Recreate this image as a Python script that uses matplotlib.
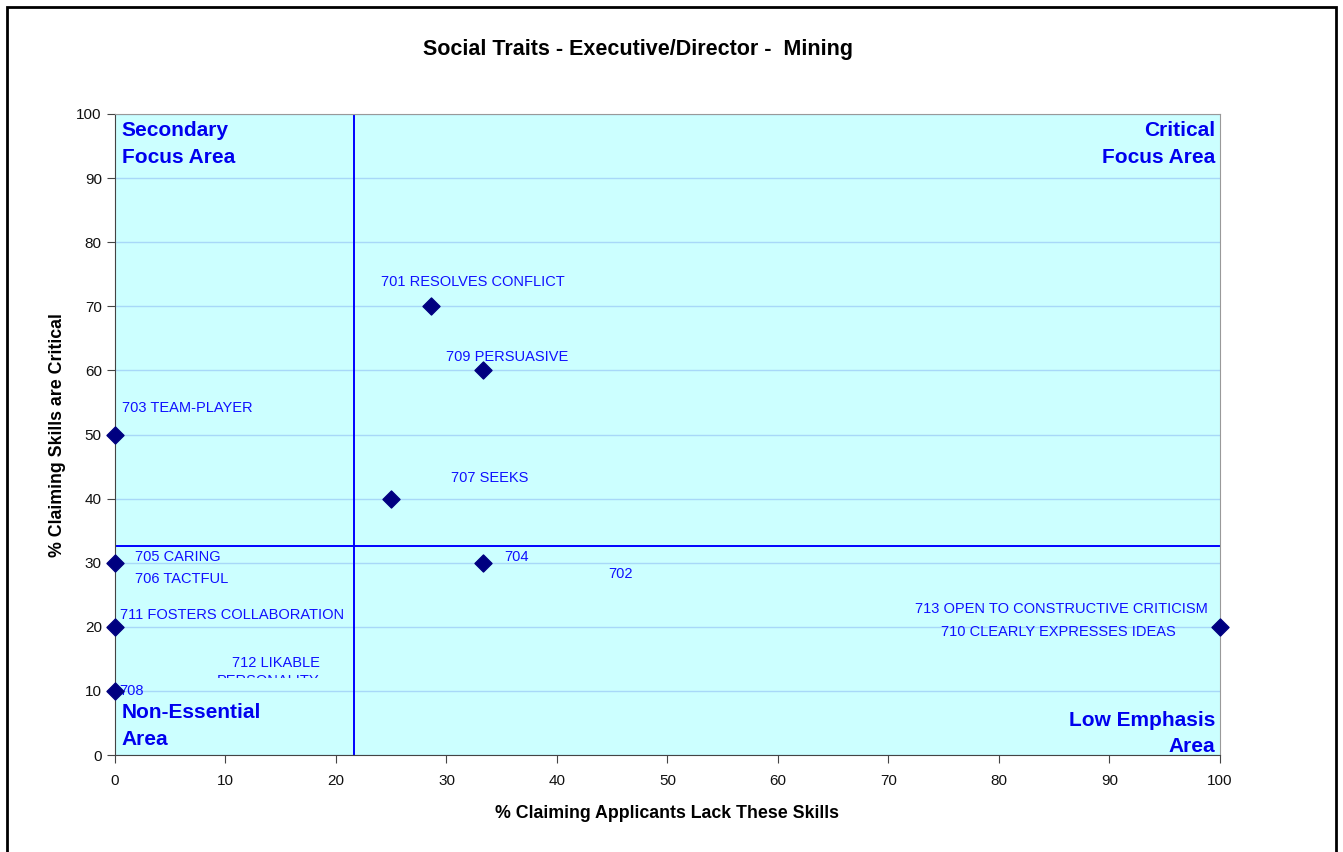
import matplotlib.pyplot as plt
from matplotlib.patches import Rectangle
from matplotlib.transforms import Bbox, TransformedBbox

plt.rcParams['font.family'] = ['Liberation Sans', 'DejaVu Sans']

# Daten
lack_pct = [28.6, 33.3, 0, 25, 0, 33.3, 0, 100, 0]
critical_pct = [70, 60, 50, 40, 30, 30, 20, 20, 10]

# Beschriftungen (Text, x, y, Ausrichtung)
labels = [
    ('701 RESOLVES CONFLICT', 32.4, 73.8, 'center'),
    ('709 PERSUASIVE', 35.5, 62.1, 'center'),
    ('703 TEAM-PLAYER', 0.6, 54.1, 'left'),
    ('707 SEEKS', 33.9, 43.2, 'center'),
    ('705 CARING', 1.8, 30.9, 'left'),
    ('706 TACTFUL', 1.8, 27.5, 'left'),
    ('704', 35.2, 30.9, 'left'),
    ('702', 44.6, 28.2, 'left'),
    ('711 FOSTERS COLLABORATION', 0.5, 21.8, 'left'),
    ('708', 0.4, 10.0, 'left'),
    ('713 OPEN TO CONSTRUCTIVE CRITICISM', 98.9, 22.8, 'right'),
    ('710 CLEARLY EXPRESSES IDEAS', 96.0, 19.2, 'right'),
]

quadrants = [
    ('Secondary\nFocus Area', 0.6, 98.9, 'left', 'top'),
    ('Critical\nFocus Area', 99.6, 98.9, 'right', 'top'),
    ('Non-Essential\nArea', 0.6, 1.0, 'left', 'bottom'),
    ('Low Emphasis\nArea', 99.6, -0.2, 'right', 'bottom'),
]

x_split = 21.6
y_split = 32.6

fig = plt.figure(figsize=(13.43, 8.52), dpi=100)
ax = fig.add_axes([0.0856, 0.1138, 0.8228, 0.7524])

# Rahmen um die ganze Grafik
fig.patches.append(Rectangle((7 / 1343, -0.05), 1329 / 1343, 1.05 - 7 / 852,
                             transform=fig.transFigure, fill=False,
                             edgecolor='black', linewidth=2))

ax.set_facecolor('#CCFFFF')
ax.set_xlim(0, 100)
ax.set_ylim(0, 100)
ax.set_xticks(range(0, 101, 10))
ax.set_yticks(range(0, 101, 10))
ax.yaxis.grid(True, color='#A8D8F8', linewidth=1)
ax.set_axisbelow(True)
for side in ['left', 'bottom']:
    ax.spines[side].set_color('#444444')
for side in ['top', 'right']:
    ax.spines[side].set_color('#999999')
ax.tick_params(labelsize=11, direction='out', length=6, color='#444444',
               labelcolor='#111111')
ax.tick_params(axis='x', pad=8)

ax.axvline(x_split, color='#0000FF', linewidth=1.4)
ax.axhline(y_split, color='#0000FF', linewidth=1.4)

ax.scatter(lack_pct, critical_pct, marker='D', s=75, color='#000080',
           zorder=5, clip_on=False)

for text, x, y, ha in labels:
    ax.text(x, y, text, ha=ha, va='center', fontsize=10.5, color='#1010FF')

# abgeschnittenes Label
clip_box = TransformedBbox(Bbox([[0, 12.0], [100, 100]]), ax.transData)
ax.text(18.5, 14.3, '712 LIKABLE', ha='right', va='center',
        fontsize=10.5, color='#1010FF')
t2 = ax.text(18.5, 11.5, 'PERSONALITY', ha='right', va='center',
             fontsize=10.5, color='#1010FF')
t2.set_clip_box(clip_box)
t2.set_clip_on(True)

for text, x, y, ha, va in quadrants:
    ax.text(x, y, text, ha=ha, va=va, fontsize=15, fontweight='bold',
            color='#0000EE', linespacing=1.5)

ax.set_xlabel('% Claiming Applicants Lack These Skills', fontsize=12.8,
              fontweight='bold', va='center')
ax.xaxis.set_label_coords(0.5, -0.0905)
ax.set_ylabel('% Claiming Skills are Critical', fontsize=12.8,
              fontweight='bold', va='center', ha='center')
ax.yaxis.set_label_coords(-0.0516, 0.499)
fig.text(0.475, 1 - 50 / 852, 'Social Traits - Executive/Director -  Mining',
         ha='center', va='center', fontsize=15.5, fontweight='bold')

fig.savefig('out.png', dpi=100)
